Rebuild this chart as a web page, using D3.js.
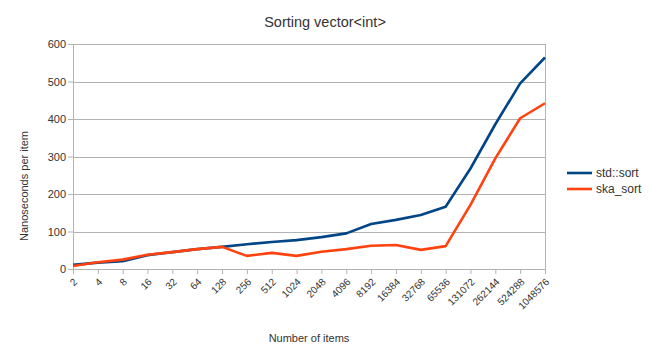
<!DOCTYPE html>
<html>
<head>
<meta charset="utf-8">
<script src="https://cdn.jsdelivr.net/npm/d3@7"></script>
<style>
  body { margin: 0; background: #fff; }
  text { font-family: "Liberation Sans", Arial, sans-serif; fill: #333; }
</style>
</head>
<body>
<script>
// categorie: numero di elementi ordinati
var items = ["2","4","8","16","32","64","128","256","512","1024","2048","4096",
             "8192","16384","32768","65536","131072","262144","524288","1048576"];
// nanosecondi per elemento
var stdSort = [11,17,21,37,45,53,59,66,72,77,85,95,120,131,144,166,268,386,495,564];
var skaSort = [8,18,25,38,45,53,59,35,43,35,46,53,62,64,51,61,171,295,402,442];
var yTicks = [0,100,200,300,400,500,600];

var series = [
  { name: "std::sort", color: "#004586", values: stdSort },
  { name: "ska_sort", color: "#ff420e", values: skaSort }
];

var W = 650, H = 363;
var pLeft = 73, pRight = 545, pTop = 44, pBottom = 269;

var svg = d3.select("body").append("svg")
  .attr("width", W).attr("height", H);

var x = d3.scalePoint().domain(items).range([pLeft, pRight]);
var y = d3.scaleLinear().domain([0, 600]).range([pBottom, pTop]);

// griglia orizzontale
svg.append("g")
  .selectAll("line")
  .data(yTicks)
  .enter().append("line")
  .attr("x1", pLeft).attr("x2", pRight)
  .attr("y1", function(d) { return Math.round(y(d)) + 0.5; })
  .attr("y2", function(d) { return Math.round(y(d)) + 0.5; })
  .attr("stroke", "#b3b3b3").attr("stroke-width", 1);

// bordo verticale sinistro e destro
svg.append("line").attr("x1", pLeft + 0.5).attr("x2", pLeft + 0.5).attr("y1", pTop).attr("y2", pBottom)
  .attr("stroke", "#b3b3b3");
svg.append("line").attr("x1", pRight + 0.5).attr("x2", pRight + 0.5).attr("y1", pTop).attr("y2", pBottom)
  .attr("stroke", "#b3b3b3");

// asse y
var yAxis = svg.append("g")
  .attr("transform", "translate(" + pLeft + ",0)")
  .call(d3.axisLeft(y).tickValues(yTicks).tickSize(5).tickPadding(2));
yAxis.select(".domain").remove();
yAxis.selectAll("line").attr("stroke", "#b3b3b3");
yAxis.selectAll("text").attr("font-size", 11).style("font-family", "Liberation Sans, Arial, sans-serif").attr("fill", "#333");

// asse x
var xAxis = svg.append("g")
  .attr("transform", "translate(0," + pBottom + ")")
  .call(d3.axisBottom(x).tickSize(5).tickPadding(3));
xAxis.select(".domain").attr("stroke", "#b3b3b3");
xAxis.selectAll("line").attr("stroke", "#b3b3b3");
xAxis.selectAll("text")
  .attr("font-size", 10)
  .style("font-family", "Liberation Sans, Arial, sans-serif")
  .attr("fill", "#333")
  .attr("text-anchor", "end")
  .attr("x", 0).attr("y", 0)
  .attr("dy", "0.35em")
  .attr("transform", "translate(2,11) rotate(-45)");

// linee
var line = d3.line()
  .x(function(d, i) { return x(items[i]); })
  .y(function(d) { return y(d); });

svg.selectAll("path.serie")
  .data(series)
  .enter().append("path")
  .attr("class", "serie")
  .attr("fill", "none")
  .attr("stroke", function(d) { return d.color; })
  .attr("stroke-width", 2.6)
  .attr("stroke-linejoin", "round")
  .attr("d", function(d) { return line(d.values); });

// titoli
svg.append("text").attr("x", 325).attr("y", 27).attr("text-anchor", "middle")
  .attr("font-size", 14.5).text("Sorting vector<int>");
svg.append("text").attr("x", (pLeft + pRight) / 2).attr("y", 342).attr("text-anchor", "middle")
  .attr("font-size", 11).text("Number of items");
svg.append("text").attr("transform", "translate(28,186) rotate(-90)")
  .attr("text-anchor", "middle").attr("font-size", 11).text("Nanoseconds per item");

// legenda
var legend = svg.selectAll("g.leg")
  .data(series)
  .enter().append("g")
  .attr("class", "leg")
  .attr("transform", function(d, i) { return "translate(567," + (173 + i * 16) + ")"; });
legend.append("line").attr("x1", 0).attr("x2", 25)
  .attr("stroke", function(d) { return d.color; }).attr("stroke-width", 2.6);
legend.append("text").attr("x", 29).attr("dy", "0.35em").attr("font-size", 12)
  .text(function(d) { return d.name; });
</script>
</body>
</html>
